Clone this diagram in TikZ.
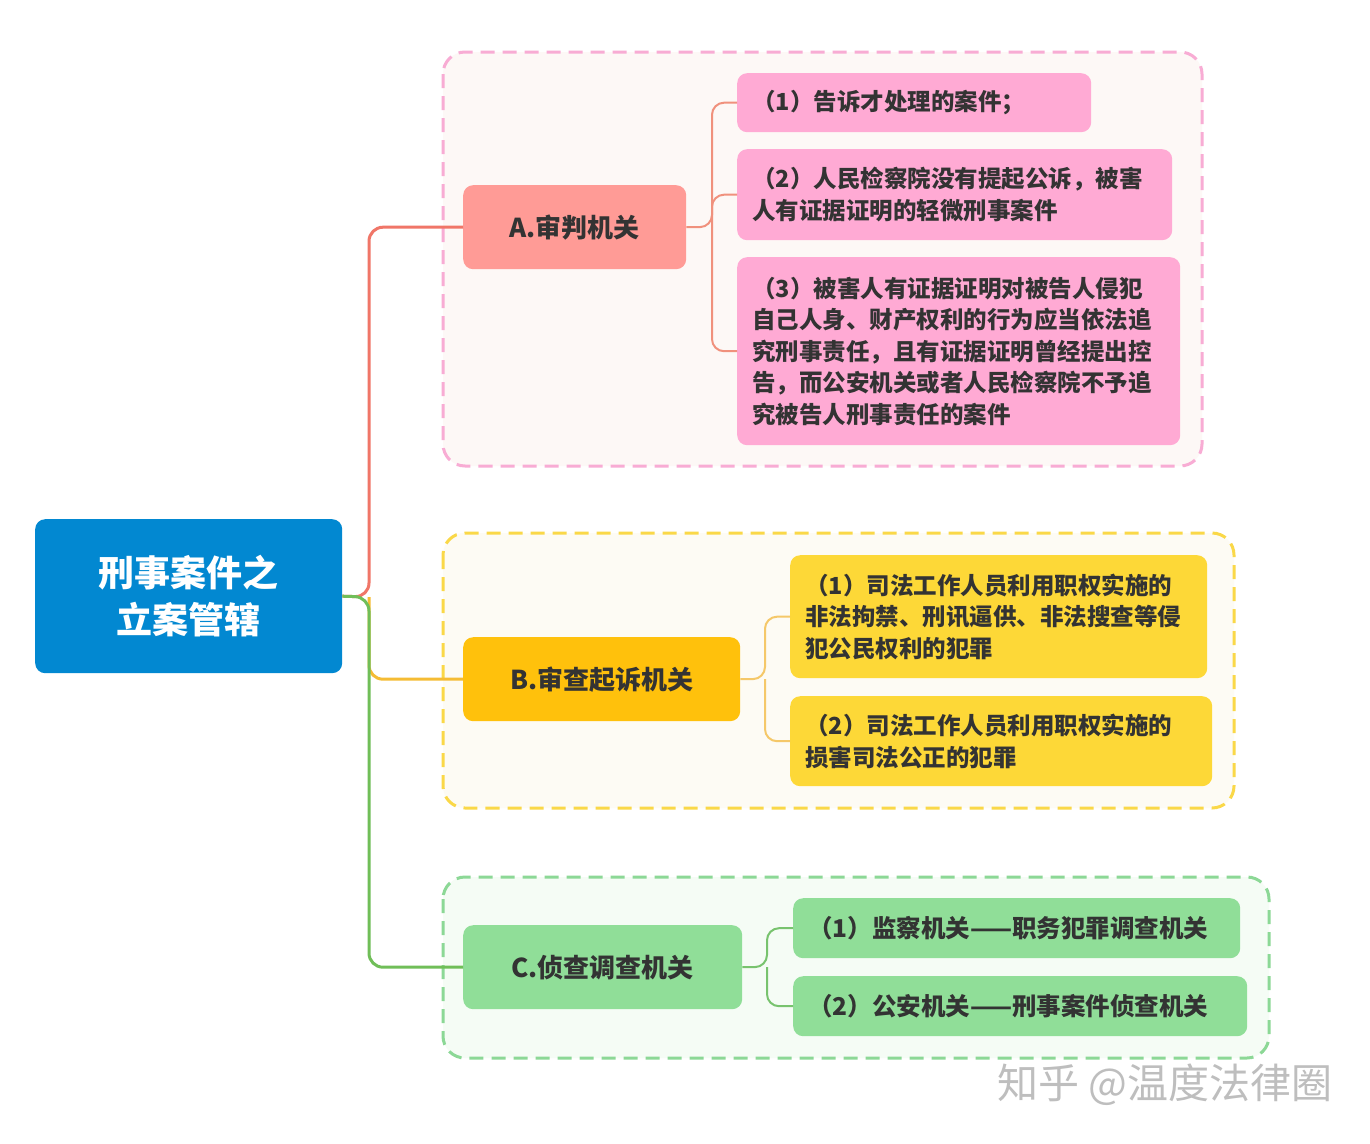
\documentclass[tikz,border=0pt]{standalone}
\usepackage{fontspec}
\newfontfamily\cjk{Noto Sans CJK SC}
\usetikzlibrary{positioning}
\definecolor{rootblue}{RGB}{2,136,209}
\definecolor{txt}{RGB}{51,51,51}
\definecolor{redline}{RGB}{240,118,104}
\definecolor{afill}{RGB}{255,155,150}
\definecolor{asub}{RGB}{255,170,212}
\definecolor{aline}{RGB}{240,145,125}
\definecolor{aborder}{RGB}{248,172,212}
\definecolor{abg}{RGB}{253,248,246}
\definecolor{orline}{RGB}{245,188,52}
\definecolor{bfill}{RGB}{255,193,12}
\definecolor{bsub}{RGB}{253,216,55}
\definecolor{bline}{RGB}{245,200,105}
\definecolor{bborder}{RGB}{250,216,72}
\definecolor{bbg}{RGB}{253,251,244}
\definecolor{grline}{RGB}{112,190,88}
\definecolor{cfill}{RGB}{144,222,152}
\definecolor{cline}{RGB}{120,195,110}
\definecolor{cborder}{RGB}{140,216,150}
\definecolor{cbg}{RGB}{245,252,245}
\definecolor{wm}{RGB}{190,190,190}
\tikzset{
  grp/.style={draw=#1, dashed, dash pattern=on 14pt off 8pt, line width=3pt, rounded corners=22pt},
  rootbox/.style={fill=rootblue, rounded corners=10pt, anchor=north west, inner sep=0pt,
    text=white, font=\cjk\bfseries\fontsize{36}{47}\selectfont, align=center},
  midbox/.style={fill=#1, rounded corners=10pt, anchor=north west, inner sep=0pt,
    text=txt, font=\cjk\bfseries\fontsize{26}{32}\selectfont, align=center},
  subbox/.style={fill=#1, rounded corners=10pt, anchor=north west, inner xsep=15pt, inner ysep=0pt,
    text=txt, font=\cjk\bfseries\fontsize{23.5}{31.5}\selectfont, align=left},
  trunk/.style={draw=#1, line width=3pt, rounded corners=14pt},
  twig/.style={draw=#1, line width=2pt, rounded corners=12pt},
}
\begin{document}
\begin{tikzpicture}[x=1pt,y=-1pt]
\useasboundingbox[fill=white] (0,0) rectangle (1370,1143);
% group backgrounds
\path[grp=aborder, fill=abg] (443,52) rectangle (1202,466);
\path[grp=bborder, fill=bbg] (443,533) rectangle (1234,808);
\path[grp=cborder, fill=cbg] (443,877) rectangle (1269,1058);
% nodes
\node[rootbox, minimum width=307pt, minimum height=154pt] (root) at (35,519) {刑事案件之\\立案管辖};
\node[midbox=afill, minimum width=223pt, minimum height=84pt] (A) at (463,185) {A.审判机关};
\node[midbox=bfill, minimum width=277pt, minimum height=84pt] (B) at (463,637) {B.审查起诉机关};
\node[midbox=cfill, minimum width=279pt, minimum height=84pt] (C) at (463,925) {C.侦查调查机关};
\node[subbox=asub, text width=324pt, minimum height=59pt] (A1) at (737,73) {（1）告诉才处理的案件；};
\node[subbox=asub, text width=405pt, minimum height=91pt] (A2) at (737,149) {（2）人民检察院没有提起公诉，被害\\人有证据证明的轻微刑事案件};
\node[subbox=asub, text width=413pt, minimum height=188pt] (A3) at (737,257) {（3）被害人有证据证明对被告人侵犯\\自己人身、财产权利的行为应当依法追\\究刑事责任，且有证据证明曾经提出控\\告，而公安机关或者人民检察院不予追\\究被告人刑事责任的案件};
\node[subbox=bsub, text width=387pt, minimum height=123pt] (B1) at (790,555) {（1）司法工作人员利用职权实施的\\非法拘禁、刑讯逼供、非法搜查等侵\\犯公民权利的犯罪};
\node[subbox=bsub, text width=392pt, minimum height=90pt] (B2) at (790,696) {（2）司法工作人员利用职权实施的\\损害司法公正的犯罪};
\node[subbox=cfill, text width=417pt, minimum height=60pt, font=\cjk\bfseries\fontsize{24.5}{31.5}\selectfont] (C1) at (793,898) {（1）监察机关——职务犯罪调查机关};
\node[subbox=cfill, text width=424pt, minimum height=60pt, font=\cjk\bfseries\fontsize{24.5}{31.5}\selectfont] (C2) at (793,976) {（2）公安机关——刑事案件侦查机关};
% junctions
\coordinate (j) at (369,597);
\coordinate (ja) at (712,227);
\coordinate (jb) at (765,679);
\coordinate (jc) at (767,967);
% trunk connectors
\draw[trunk=redline] (root.east) -- (j) |- (A.west);
\draw[trunk=orline] (j) |- (B.west);
\draw[trunk=grline] (root.east) -- (j) |- (C.west);
% twigs
\draw[twig=aline] (A.east) -- (ja) |- (A1.west);
\draw[twig=aline] (ja) |- (A2.west);
\draw[twig=aline] (ja) |- (A3.west);
\draw[twig=bline] (B.east) -- (jb) |- (B1.west);
\draw[twig=bline] (jb) |- (B2.west);
\draw[twig=cline] (C.east) -- (jc) |- (C1.west);
\draw[twig=cline] (jc) |- (C2.west);
% watermark
\node[text=wm, font=\cjk\fontsize{41}{44}\selectfont, anchor=west, inner sep=0pt] (wm) at (997,1085) {知乎 @温度法律圈};
\end{tikzpicture}
\end{document}
